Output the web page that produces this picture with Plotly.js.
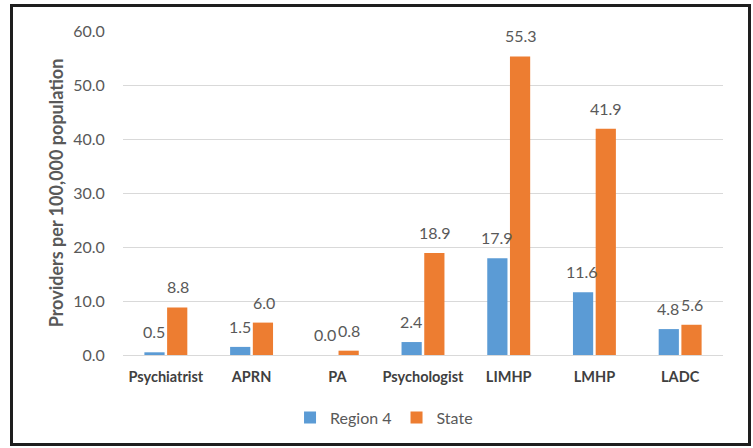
<!DOCTYPE html>
<html>
<head>
<meta charset="utf-8">
<script src="https://cdn.plot.ly/plotly-3.0.1.min.js"></script>
<style>
html,body{margin:0;padding:0;background:#fff;}
#wrap{position:relative;width:753px;height:448px;}
#chart{width:753px;height:448px;}
#frame{position:absolute;left:10px;top:4px;width:735px;height:436px;border:3px solid #1e1e1e;pointer-events:none;}
</style>
</head>
<body>
<div id="wrap">
<div id="chart"></div>
<div id="frame"></div>
</div>
<script>
const categories = ["Psychiatrist","APRN","PA","Psychologist","LIMHP","LMHP","LADC"];
const region4 = [0.5, 1.5, 0.0, 2.4, 17.9, 11.6, 4.8];
const state = [8.8, 6.0, 0.8, 18.9, 55.3, 41.9, 5.6];
const seriesNames = ["Region 4","State"];
const yTicks = [0,10,20,30,40,50,60];

const font = "Lato, 'Open Sans', sans-serif";
const colors = ['#5B9BD5','#ED7D31'];
function trace(name, vals, color){
  return {
    type:'bar', name:name, x:categories, y:vals,
    marker:{color:color},
    hoverinfo:'none'
  };
}
const data = [trace(seriesNames[0], region4, colors[0]), trace(seriesNames[1], state, colors[1])];

const annotations = [];
[[region4,-12],[state,12]].forEach(([vals,shift])=>{
  vals.forEach((v,i)=>{
    annotations.push({x:categories[i], y:v, xref:'x', yref:'y', text:v.toFixed(1),
      showarrow:false, xanchor:'center', yanchor:'bottom', xshift:shift, yshift:9,
      font:{family:font, size:16, color:'#595959'}});
  });
});

const layout = {
  width:753, height:448,
  margin:{l:123, r:30, t:31, b:93},
  paper_bgcolor:'#fff', plot_bgcolor:'#fff',
  barmode:'group', bargap:0.47, bargroupgap:0.11,
  font:{family:font, color:'#595959'},
  annotations:annotations,
  xaxis:{
    tickfont:{family:font, size:14.5, color:'#404040', weight:'bold'},
    showgrid:false, showline:true, linecolor:'#D9D9D9', linewidth:1,
    ticks:'outside', ticklen:9, tickcolor:'rgba(0,0,0,0)',
    fixedrange:true
  },
  yaxis:{
    range:[0,60], tickvals:yTicks, ticktext:yTicks.map(v=>v.toFixed(1)),
    tickfont:{family:font, size:16, color:'#595959'},
    gridcolor:'#D9D9D9', gridwidth:1, zeroline:false,
    ticks:'outside', ticklen:14, tickcolor:'rgba(0,0,0,0)',
    title:{text:'Providers per 100,000 population', font:{family:font, size:18, color:'#595959', weight:'bold'}, standoff:4},
    fixedrange:true
  },
  showlegend:true,
  legend:{orientation:'h', xref:'container', x:0.51, xanchor:'center', yref:'container', y:0.03, yanchor:'bottom',
    font:{family:font, size:16, color:'#595959'}, itemwidth:30, traceorder:'normal'}
};
Plotly.newPlot('chart', data, layout, {displayModeBar:false, staticPlot:true});
</script>
</body>
</html>
